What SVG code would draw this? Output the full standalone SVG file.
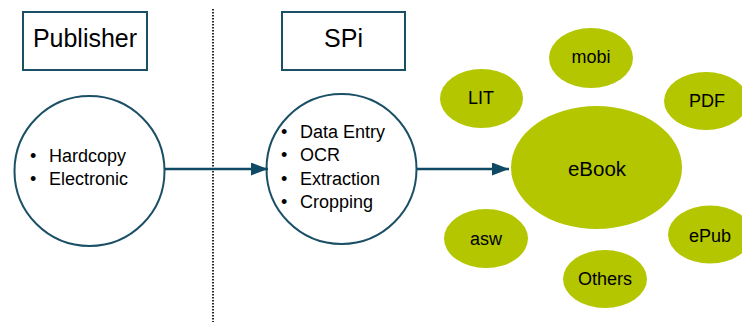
<svg xmlns="http://www.w3.org/2000/svg" width="742" height="322" viewBox="0 0 742 322">
<style>
.box{fill:#fff;stroke:#1a4f66;stroke-width:2}
.circ{fill:#fff;stroke:#1a4f66;stroke-width:2}
.fmt{fill:#b3c600}
.t{font-family:"Liberation Sans",Arial,sans-serif;fill:#000}
.lbl{font-size:18px;text-anchor:middle}
.li{font-size:18px}
.con{stroke:#0e4a63;stroke-width:2.5;fill:none}
</style>
<defs>
<marker id="ah" markerWidth="17" markerHeight="13" refX="17" refY="6.5" orient="auto" markerUnits="userSpaceOnUse" viewBox="0 0 17 13">
<path d="M0,0 L17,6.5 L0,13 Z" fill="#0e4a63"/>
</marker>
</defs>
<line x1="213" y1="9" x2="213" y2="322" stroke="#111" stroke-width="1.8" stroke-dasharray="1.5 1.5"/>
<g id="publisher-label">
<rect class="box" x="23" y="12" width="124" height="58"/>
<text class="t" x="85" y="47" font-size="25" text-anchor="middle">Publisher</text>
</g>
<g id="spi-label">
<rect class="box" x="282" y="12" width="123" height="58"/>
<text class="t" x="343.5" y="47" font-size="25" text-anchor="middle">SPi</text>
</g>
<g id="publisher">
<circle class="circ" cx="89.5" cy="171" r="75"/>
<text class="t li" x="30" y="162">•</text>
<text class="t li" x="49" y="162">Hardcopy</text>
<text class="t li" x="30" y="185">•</text>
<text class="t li" x="49" y="185">Electronic</text>
</g>
<g id="spi">
<circle class="circ" cx="341.5" cy="169" r="75"/>
<text class="t li" x="281" y="138">•</text>
<text class="t li" x="300" y="138">Data Entry</text>
<text class="t li" x="281" y="161">•</text>
<text class="t li" x="300" y="161">OCR</text>
<text class="t li" x="281" y="185">•</text>
<text class="t li" x="300" y="185">Extraction</text>
<text class="t li" x="281" y="208">•</text>
<text class="t li" x="300" y="208">Cropping</text>
</g>
<g id="ebook">
<ellipse class="fmt" cx="596.5" cy="167.5" rx="85.5" ry="61.5"/>
<text class="t" x="597" y="176" font-size="20.5" text-anchor="middle">eBook</text>
</g>
<g id="mobi">
<ellipse class="fmt" cx="591" cy="58" rx="42" ry="30"/>
<text class="t lbl" x="591" y="63">mobi</text>
</g>
<g id="lit">
<ellipse class="fmt" cx="481.5" cy="98.5" rx="41.5" ry="29.5"/>
<text class="t lbl" x="481" y="104">LIT</text>
</g>
<g id="pdf">
<ellipse class="fmt" cx="706" cy="101" rx="42" ry="29"/>
<text class="t lbl" x="707" y="107">PDF</text>
</g>
<g id="asw">
<ellipse class="fmt" cx="486" cy="238.5" rx="42" ry="29.5"/>
<text class="t lbl" x="486" y="245">asw</text>
</g>
<g id="epub">
<ellipse class="fmt" cx="710" cy="234.5" rx="42" ry="29"/>
<text class="t lbl" x="710" y="242">ePub</text>
</g>
<g id="others">
<ellipse class="fmt" cx="605" cy="279" rx="42" ry="29"/>
<text class="t lbl" x="605" y="285">Others</text>
</g>
<g id="connectors">
<line class="con" x1="165" y1="169" x2="268" y2="169" marker-end="url(#ah)"/>
<line class="con" x1="417" y1="169" x2="509" y2="169" marker-end="url(#ah)"/>
</g>
</svg>
